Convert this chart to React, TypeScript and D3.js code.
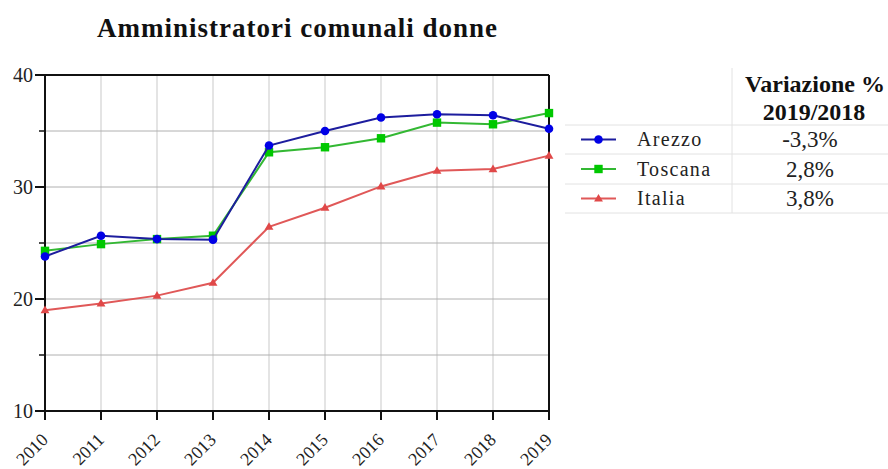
import React from "react";
import * as d3 from "d3";

const years = [2010, 2011, 2012, 2013, 2014, 2015, 2016, 2017, 2018, 2019];
const arezzo = [23.8, 25.65, 25.35, 25.3, 33.7, 35.0, 36.2, 36.5, 36.4, 35.2];
const toscana = [24.3, 24.9, 25.35, 25.65, 33.1, 33.55, 34.35, 35.75, 35.6, 36.6];
const italia = [19.0, 19.6, 20.3, 21.45, 26.45, 28.15, 30.05, 31.45, 31.6, 32.8];
const seriesNames = ["Arezzo", "Toscana", "Italia"];
const variations = ["-3,3%", "2,8%", "3,8%"];
const yMajorTicks = [10, 20, 30, 40];
const yMinorTicks = [15, 25, 35];
const yGridTicks = [15, 20, 25, 30, 35];
const title = "Amministratori comunali donne";
const tableHeader = ["Variazione %", "2019/2018"];

const FONT = "Liberation Serif";

export default function App() {
  const x = d3.scaleLinear().domain([2010, 2019]).range([45, 549]);
  const y = d3.scaleLinear().domain([10, 40]).range([411, 75]);
  const line = d3
    .line<number>()
    .x((_, i) => x(years[i]))
    .y((d) => y(d));

  const series = [
    { name: seriesNames[0], data: arezzo, line: "#1d1d9e", marker: "#0000e6", shape: "circle" },
    { name: seriesNames[1], data: toscana, line: "#33b833", marker: "#00c800", shape: "square" },
    { name: seriesNames[2], data: italia, line: "#e05858", marker: "#e04848", shape: "triangle" },
  ];

  const tri = d3.symbol(d3.symbolTriangle, 34)();

  const marker = (shape: string, cx: number, cy: number, color: string, key: any) => {
    if (shape === "circle") return <circle key={key} cx={cx} cy={cy} r={4.3} fill={color} />;
    if (shape === "square")
      return <rect key={key} x={cx - 4.2} y={cy - 4.2} width={8.4} height={8.4} fill={color} />;
    return <path key={key} d={tri || ""} transform={`translate(${cx},${cy + 0.5})`} fill={color} />;
  };

  const rowLines = [125, 154, 184, 213];
  const rowCenters = [139.5, 169, 198.5];
  const ts = { fontFamily: FONT };

  return (
    <svg
      width={888}
      height={469}
      style={{ position: "absolute", left: 0, top: 0, background: "#fff", fontFamily: FONT }}
    >
      <text x={97} y={37} fontSize={27} fontWeight="bold" letterSpacing={1.0} fill="#111" style={ts}>
        {title}
      </text>

      {/* grid */}
      {years.map((yr) => (
        <line key={"vg" + yr} x1={x(yr)} x2={x(yr)} y1={75} y2={411} stroke="#d2d2d2" strokeWidth={1.2} />
      ))}
      {yGridTicks.map((t) => (
        <line key={"hg" + t} x1={45} x2={549} y1={y(t)} y2={y(t)} stroke="#b0b0b0" strokeWidth={1} />
      ))}

      {/* frame */}
      <line x1={45} x2={549} y1={75} y2={75} stroke="#111" strokeWidth={2} />
      <line x1={549} x2={549} y1={75} y2={411} stroke="#111" strokeWidth={2} />
      <line x1={45} x2={45} y1={75} y2={411} stroke="#111" strokeWidth={2} />
      <line x1={45} x2={549} y1={411} y2={411} stroke="#111" strokeWidth={2} />

      {/* y ticks */}
      {yMajorTicks.map((t) => (
        <g key={"yt" + t}>
          <line x1={35} x2={45} y1={y(t)} y2={y(t)} stroke="#111" strokeWidth={2} />
          <text x={33} y={y(t) + 6.5} textAnchor="end" fontSize={20} fill="#222" style={ts}>
            {t}
          </text>
        </g>
      ))}
      {yMinorTicks.map((t) => (
        <line key={"ym" + t} x1={39} x2={45} y1={y(t)} y2={y(t)} stroke="#111" strokeWidth={1.5} />
      ))}

      {/* x ticks */}
      {years.map((yr) => (
        <g key={"xt" + yr}>
          <line x1={x(yr)} x2={x(yr)} y1={411} y2={420} stroke="#111" strokeWidth={2} />
          <text
            transform={`translate(${x(yr) + 4},${441}) rotate(-45)`}
            textAnchor="end"
            fontSize={18}
            fill="#222"
            style={ts}
          >
            {yr}
          </text>
        </g>
      ))}

      {/* series */}
      {series
        .slice()
        .reverse()
        .map((s) => (
          <g key={s.name}>
            <path d={line(s.data) || ""} fill="none" stroke={s.line} strokeWidth={2} />
            {s.data.map((v, i) => marker(s.shape, x(years[i]), y(v), s.marker, i))}
          </g>
        ))}

      {/* table */}
      <line x1={732} x2={732} y1={68} y2={213} stroke="#e2e2e2" strokeWidth={1} />
      {rowLines.map((ly) => (
        <line key={"rl" + ly} x1={565} x2={888} y1={ly} y2={ly} stroke="#e2e2e2" strokeWidth={1} />
      ))}
      <text x={815} y={92} textAnchor="middle" fontSize={24} fontWeight="bold" fill="#111" style={ts}>
        {tableHeader[0]}
      </text>
      <text x={814} y={120} textAnchor="middle" fontSize={24} fontWeight="bold" fill="#111" style={ts}>
        {tableHeader[1]}
      </text>
      {series.map((s, i) => (
        <g key={"lg" + s.name}>
          <line x1={581} x2={616} y1={rowCenters[i]} y2={rowCenters[i]} stroke={s.line} strokeWidth={2} />
          {marker(s.shape, 598.5, rowCenters[i], s.marker, "m")}
          <text x={637} y={rowCenters[i] + 6.5} fontSize={20} letterSpacing={1.3} fill="#222" style={ts}>
            {s.name}
          </text>
          <text x={810} y={rowCenters[i] + 7.5} textAnchor="middle" fontSize={23} fill="#222" style={ts}>
            {variations[i]}
          </text>
        </g>
      ))}
    </svg>
  );
}
